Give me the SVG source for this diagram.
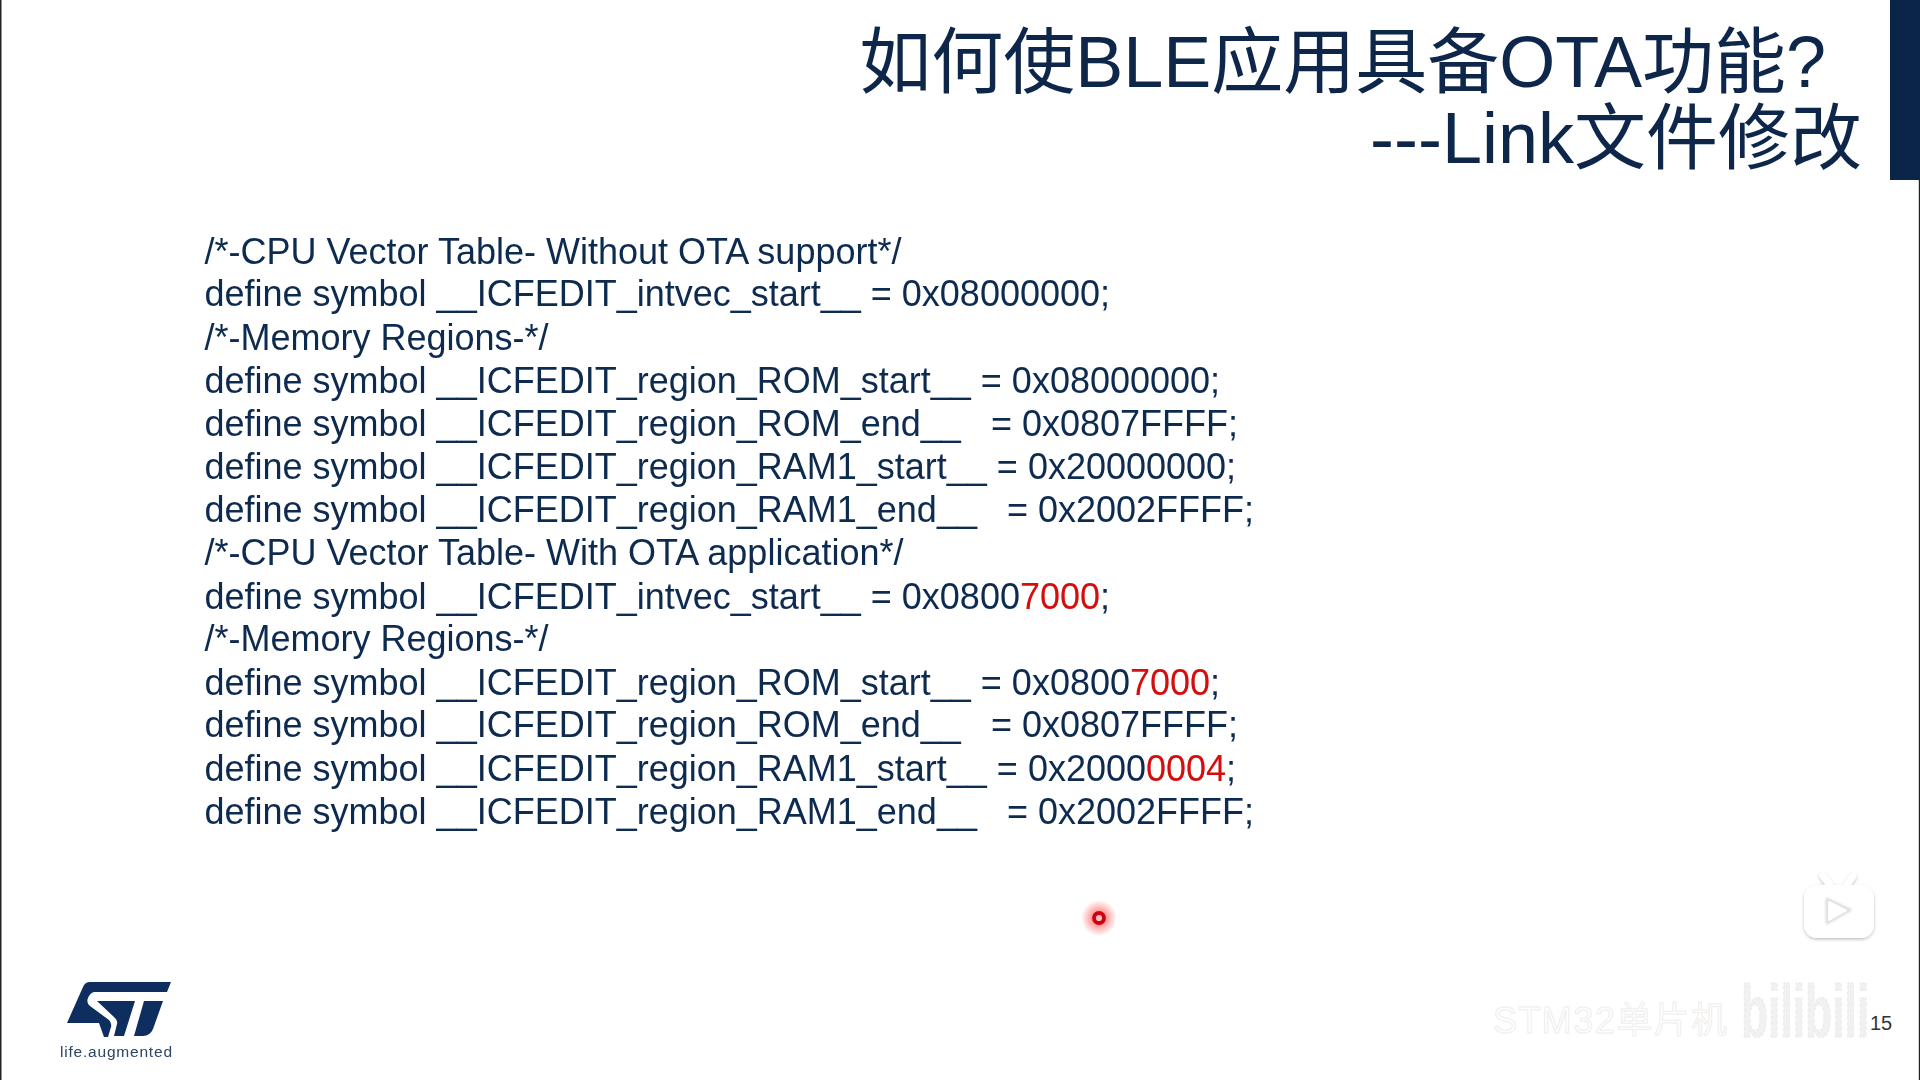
<svg xmlns="http://www.w3.org/2000/svg" width="1920" height="1080" viewBox="0 0 1920 1080">
<defs>
<style>
.t{font-family:"Liberation Sans","Noto Sans CJK SC",sans-serif;fill:#0b2549;font-size:72px;font-weight:400}
.b{font-family:"Liberation Sans",Arial,sans-serif;fill:#0e2a50;font-size:36px;white-space:pre}
.r{fill:#d40a0a}
</style>
<radialGradient id="halo"><stop offset="0.25" stop-color="#f33" stop-opacity=".6"/><stop offset="1" stop-color="#f33" stop-opacity="0"/></radialGradient>
<filter id="soft" x="-5%" y="-5%" width="110%" height="110%"><feGaussianBlur stdDeviation="0.5"/></filter>
<filter id="logoSoft" x="-5%" y="-5%" width="110%" height="110%"><feGaussianBlur stdDeviation="0.6"/></filter>
<filter id="sh" x="-20%" y="-20%" width="140%" height="140%"><feDropShadow dx="0" dy="1.5" stdDeviation="1.8" flood-color="#000" flood-opacity=".25"/></filter>
<filter id="sh2" x="-30%" y="-30%" width="160%" height="160%"><feGaussianBlur stdDeviation="1.1"/></filter>
</defs>
<rect width="1920" height="1080" fill="#fff"/>
<rect x="0" y="0" width="1.5" height="1080" fill="#222"/>
<rect x="1918.8" y="0" width="1.2" height="1080" fill="#222"/>
<rect id="bar" x="1890" y="0" width="29" height="180" fill="#0b2549"/>
<g id="title" filter="url(#soft)">
<text class="t" x="1826" y="87" text-anchor="end">如何使BLE应用具备OTA功能?</text>
<text class="t" x="1862" y="163" text-anchor="end">---Link文件修改</text>
</g>
<g id="code" filter="url(#soft)">
<text class="b" x="204.5" y="264">/*-CPU Vector Table- Without OTA support*/</text>
<text class="b" x="204.5" y="306">define symbol __ICFEDIT_intvec_start__ = 0x08000000;</text>
<text class="b" x="204.5" y="350">/*-Memory Regions-*/</text>
<text class="b" x="204.5" y="393">define symbol __ICFEDIT_region_ROM_start__ = 0x08000000;</text>
<text class="b" x="204.5" y="436">define symbol __ICFEDIT_region_ROM_end__   = 0x0807FFFF;</text>
<text class="b" x="204.5" y="479">define symbol __ICFEDIT_region_RAM1_start__ = 0x20000000;</text>
<text class="b" x="204.5" y="522">define symbol __ICFEDIT_region_RAM1_end__   = 0x2002FFFF;</text>
<text class="b" x="204.5" y="565">/*-CPU Vector Table- With OTA application*/</text>
<text class="b" x="204.5" y="609">define symbol __ICFEDIT_intvec_start__ = 0x0800<tspan class="r">7000</tspan>;</text>
<text class="b" x="204.5" y="651">/*-Memory Regions-*/</text>
<text class="b" x="204.5" y="695">define symbol __ICFEDIT_region_ROM_start__ = 0x0800<tspan class="r">7000</tspan>;</text>
<text class="b" x="204.5" y="737">define symbol __ICFEDIT_region_ROM_end__   = 0x0807FFFF;</text>
<text class="b" x="204.5" y="781">define symbol __ICFEDIT_region_RAM1_start__ = 0x2000<tspan class="r">0004</tspan>;</text>
<text class="b" x="204.5" y="824">define symbol __ICFEDIT_region_RAM1_end__   = 0x2002FFFF;</text>
</g>
<g id="laser">
<circle cx="1099" cy="918" r="18" fill="url(#halo)"/>
<circle cx="1099" cy="918" r="5" fill="#f7c0c0" stroke="#d00010" stroke-width="3.8"/>
</g>
<g id="logo">
<g filter="url(#logoSoft)" fill="#0b2f5e">
<path d="M90 982 H171 L167 992 H94 Q90 993 88 998 Q86 1003 90 1006 L109 1020 Q112 1023 111 1027 L108 1037 H104 L99 1023 H67 L83 987 Q85 982 90 982 Z"/>
<path d="M97 1001 H135 L124 1036 H114 L117 1024 Q118 1021 115 1018 Z"/>
<path d="M144 1001 H163 L153 1029 Q150 1036 143 1036 H134 Z"/>
</g>
<text x="60" y="1057" font-family="'Liberation Sans',sans-serif" font-size="15.5" fill="#2d4467" textLength="112" filter="url(#logoSoft)">life.augmented</text>
</g>
<g id="tv" filter="url(#sh)">
<path d="M1823 876 L1830 885 M1853 876 L1847 885" stroke="#fff" stroke-width="7" stroke-linecap="round"/>
<rect x="1804" y="885" width="70" height="53" rx="13" fill="#fff"/>
</g>
<path d="M1827 899 L1850 910 L1827 923 Z" fill="#dedede" stroke="#dedede" stroke-width="3" stroke-linejoin="round" filter="url(#sh2)"/>
<path d="M1829 902 L1846 910.5 L1829 920 Z" fill="#fff" stroke="#fff" stroke-width="2" stroke-linejoin="round"/>
<g id="watermark">
<text x="1493" y="1033" font-family="'Liberation Sans','Noto Sans CJK SC',sans-serif" font-size="36" fill="#fff" stroke="#eeeeee" stroke-width="1" textLength="234">STM32单片机</text>
<text transform="translate(1741 1037) scale(.6 1)" font-family="'Liberation Sans',sans-serif" font-weight="700" font-size="74" fill="#f1f1f1" stroke="#e6e6e6" stroke-dasharray="3 3">bilibili</text>
</g>
<text id="page" x="1870" y="1030" font-family="'Liberation Sans',sans-serif" font-size="20" fill="#333">15</text>
</svg>
